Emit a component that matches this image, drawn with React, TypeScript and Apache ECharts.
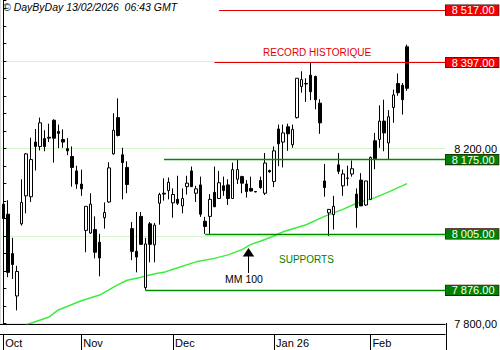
import React, { useEffect, useRef } from 'react';
import * as echarts from 'echarts';

// Daily candles (index 0 = first visible session)
const opens = [8073, 8050, 7960, 7863, 8028, 8092, 8090, 8215, 8205, 8223, 8224, 8265, 8239, 8221, 8200, 8182, 8149, 8119, 8013, 8007, 8015, 7986, 8042, 8078, 8188, 8271, 8186, 8157, 8017, 7965, 8045, 7882, 8028, 7980, 8075, 8098, 8104, 8076, 8084, 8069, 8113, 8149, 8098, 8117, 8034, 8045, 8100, 8086, 8115, 8117, 8086, 8130, 8136, 8119, 8109, 8102, 8127, 8098, 8150, 8125, 8245, 8215, 8250, 8209, 8271, 8342, 8349, 8368, 8365, 8304, 8126, 8053, 8049, 8163, 8115, 8132, 8142, 8096, 8128, 8071, 8084, 8218, 8221, 8263, 8213, 8294, 8349, 8345, 8433];
const closes = [8040, 7917, 7935, 7919, 8077, 8188, 8175, 8205, 8259, 8205, 8226, 8224, 8235, 8215, 8195, 8157, 8119, 8108, 8068, 8073, 7963, 7950, 8054, 8156, 8242, 8230, 8168, 8118, 7965, 7952, 7981, 7982, 7981, 8025, 8095, 8096, 8123, 8095, 8075, 8086, 8121, 8113, 8108, 8050, 8022, 8084, 8067, 8122, 8104, 8086, 8152, 8152, 8121, 8102, 8103, 8101, 8111, 8167, 8147, 8195, 8211, 8236, 8234, 8244, 8361, 8358, 8348, 8330, 8312, 8259, 8111, 8061, 8068, 8148, 8142, 8133, 8154, 8065, 8069, 8126, 8180, 8177, 8263, 8236, 8273, 8323, 8328, 8312, 8338];
const lows = [8038, 7906, 7902, 7830, 8024, 8052, 8078, 8150, 8196, 8194, 8215, 8168, 8201, 8202, 8185, 8113, 8108, 8092, 7963, 8005, 7949, 7908, 8017, 8076, 8186, 8228, 8084, 8098, 7945, 7917, 7981, 7876, 7940, 7940, 8026, 8081, 8084, 8042, 8071, 8052, 8095, 8113, 8078, 8044, 8005, 8005, 8067, 8086, 8092, 8071, 8086, 8119, 8098, 8088, 8102, 8100, 8108, 8094, 8145, 8112, 8160, 8157, 8195, 8202, 8269, 8328, 8307, 8311, 8290, 8234, 8090, 8000, 8015, 8142, 8092, 8115, 8136, 8019, 8069, 8069, 8082, 8153, 8202, 8194, 8175, 8259, 8321, 8278, 8332];
const highs = [8109, 8082, 7996, 7932, 8130, 8190, 8225, 8245, 8271, 8242, 8257, 8267, 8255, 8244, 8224, 8205, 8161, 8152, 8068, 8098, 8045, 8005, 8077, 8169, 8281, 8315, 8202, 8171, 8032, 8055, 8055, 7996, 8032, 8030, 8099, 8132, 8134, 8109, 8138, 8109, 8138, 8159, 8115, 8136, 8044, 8096, 8159, 8149, 8136, 8130, 8168, 8175, 8138, 8128, 8136, 8103, 8136, 8190, 8152, 8205, 8255, 8255, 8257, 8255, 8361, 8377, 8361, 8397, 8367, 8313, 8165, 8061, 8092, 8190, 8152, 8161, 8173, 8109, 8144, 8126, 8182, 8236, 8299, 8312, 8288, 8335, 8372, 8350, 8438];

// 100-day moving average, read at selected sessions [session index, value]
const maIndex = [0, 5, 10, 12, 17, 21, 25, 27, 30, 33, 35, 37, 42, 46, 49, 52, 54, 56, 58, 61, 66, 70, 74, 77, 81, 84, 88];
const maValue = [7773, 7797, 7815, 7831, 7852, 7865, 7889, 7899, 7906, 7914, 7917, 7924, 7941, 7949, 7957, 7969, 7981, 7988, 7996, 8010, 8026, 8045, 8061, 8075, 8088, 8101, 8120];

// Month separators on the time axis
const monthTicks = [0, 17, 37, 59, 80];
const monthLabels = ['Oct', 'Nov', 'Dec', 'Jan 26', 'Feb'];

// Price-axis labels that stay visible (others are covered by level boxes)
const priceLabels = [7800, 8200];

// Horizontal levels: value, first session, kind
const levelValues = [8517, 8397, 8175, 8005, 7876];
const levelStarts = [47, 46, 35, 44, 31];
const levelKinds = ['res', 'res', 'sup', 'sup', 'sup'];

const Y_MIN = 7800;
const Y_MAX = 8540;
const X_MIN = -0.72;
const X_MAX = 96.3;

const RED = '#e00000';
const RED_BOX = '#f00000';
const GREEN = '#008a00';
const GRID_GREEN = '#d4f4cc';
const MA_GREEN = '#3cec3c';
const FONT = 'Arial, "Liberation Sans", sans-serif';

function fmt(v: number, sep: string): string {
  const th = Math.floor(v / 1000);
  const rest = String(Math.round(v % 1000)).padStart(3, '0');
  return `${th} ${rest}${sep}00`;
}

export default function App() {
  const ref = useRef<HTMLDivElement>(null);

  useEffect(() => {
    if (!ref.current) return;
    const chart = echarts.init(ref.current, undefined, { renderer: 'svg' });

    const candles = opens.map((o, i) => [i, o, closes[i], lows[i], highs[i]]);
    const ma = maIndex.map((idx, i) => [idx, maValue[i]]);

    const markLineData = levelValues.map((v, i) => {
      const isRes = levelKinds[i] === 'res';
      const lineColor = isRes ? RED : GREEN;
      const boxColor = isRes ? RED_BOX : '#008000';
      const lineStyle = { color: lineColor, width: isRes ? 1.2 : 1.4, type: 'solid', opacity: 1 };
      return [
        {
          coord: [levelStarts[i], v],
          lineStyle,
          label: {
            show: true,
            position: 'end',
            distance: 0.5,
            formatter: fmt(v, '.'),
            color: '#fff',
            fontSize: 11,
            fontFamily: FONT,
            backgroundColor: boxColor,
            borderColor: '#300',
            borderWidth: 0.6,
            padding: [0, 2, 0, 6],
            lineHeight: 10,
            width: 45,
          },
        },
        { coord: [X_MAX, v], lineStyle },
      ];
    });

    const option: any = {
      animation: false,
      backgroundColor: '#fff',
      grid: { left: 0, top: 0, width: 446.5, height: 323.5 },
      xAxis: [
        {
          type: 'value',
          min: X_MIN,
          max: X_MAX,
          offset: 1,
          axisLine: { show: true, lineStyle: { color: '#000', width: 1 } },
          axisTick: { show: false },
          axisLabel: { show: false },
          splitLine: { show: false },
        },
        {
          type: 'value',
          min: X_MIN,
          max: X_MAX,
          position: 'bottom',
          offset: 10.8,
          axisLine: { show: true, lineStyle: { color: '#000', width: 1 } },
          axisTick: {
            show: true,
            customValues: monthTicks,
            length: 16,
            inside: false,
            lineStyle: { color: '#000', width: 1 },
          },
          axisLabel: {
            show: true,
            customValues: monthTicks,
            formatter: (v: number) => {
              const k = monthTicks.indexOf(Math.round(v));
              return k >= 0 ? monthLabels[k] : '';
            },
            align: 'left',
            margin: 3,
            padding: [0, 0, 0, 2],
            color: '#000',
            fontSize: 11,
            fontFamily: FONT,
          },
          splitLine: { show: false },
        },
      ],
      yAxis: {
        type: 'value',
        position: 'right',
        min: Y_MIN,
        max: Y_MAX,
        interval: 40,
        axisLine: { show: true, lineStyle: { color: '#000', width: 1 } },
        axisTick: { show: true, length: 3, lineStyle: { color: '#000' } },
        axisLabel: {
          show: true,
          margin: 9,
          color: '#000',
          fontSize: 11,
          fontFamily: FONT,
          formatter: (v: number) => (priceLabels.indexOf(Math.round(v)) >= 0 ? fmt(v, ',') : ''),
        },
        splitLine: {
          show: true,
          lineStyle: {
            color: [GRID_GREEN, 'rgba(0,0,0,0)', 'rgba(0,0,0,0)', 'rgba(0,0,0,0)', 'rgba(0,0,0,0)'],
            width: 1,
          },
        },
      },
      series: [
        {
          type: 'line',
          data: ma,
          xAxisIndex: 0,
          showSymbol: false,
          symbol: 'none',
          lineStyle: { color: MA_GREEN, width: 1.5 },
          z: 1,
          silent: true,
        },
        {
          type: 'candlestick',
          data: candles,
          xAxisIndex: 0,
          barWidth: 3,
          z: 3,
          itemStyle: {
            color: '#fff',
            color0: '#000',
            borderColor: '#000',
            borderColor0: '#000',
            borderColorDoji: '#000',
            borderWidth: 1,
          },
          markLine: {
            symbol: ['none', 'none'],
            silent: true,
            animation: false,
            data: markLineData,
          },
        },
      ],
      graphic: [
        {
          type: 'line',
          shape: { x1: 0.5, y1: 0, x2: 0.5, y2: 323 },
          style: { stroke: '#d8d8d8', lineWidth: 1 },
          silent: true,
        },
        {
          type: 'line',
          shape: { x1: 446.5, y1: 323, x2: 446.5, y2: 350 },
          style: { stroke: '#000', lineWidth: 1 },
          silent: true,
        },
        {
          type: 'text',
          left: 3,
          top: 1,
          style: {
            text: '\u00a9 DayByDay 13/02/2026  06:43 GMT',
            fill: '#000',
            font: `italic 10.5px ${FONT}`,
          },
        },
        {
          type: 'text',
          x: 263,
          y: 52.5,
          style: {
            text: 'RECORD HISTORIQUE',
            fill: RED,
            font: `10px ${FONT}`,
            verticalAlign: 'middle',
          },
        },
        {
          type: 'text',
          x: 279,
          y: 259.5,
          style: {
            text: 'SUPPORTS',
            fill: '#008000',
            font: `10px ${FONT}`,
            verticalAlign: 'middle',
          },
        },
        {
          type: 'text',
          x: 244,
          y: 279,
          style: {
            text: 'MM 100',
            fill: '#000',
            font: `10.5px ${FONT}`,
            align: 'center',
            verticalAlign: 'middle',
          },
        },
        {
          type: 'polygon',
          shape: { points: [[248.5, 248], [242.8, 256.5], [254.2, 256.5]] },
          style: { fill: '#000' },
          silent: true,
        },
        {
          type: 'line',
          shape: { x1: 248.5, y1: 256, x2: 248.5, y2: 273 },
          style: { stroke: '#000', lineWidth: 1 },
          silent: true,
        },
      ],
    };

    chart.setOption(option);
    return () => chart.dispose();
  }, []);

  return (
    <div
      ref={ref}
      style={{ position: 'absolute', left: 0, top: 0, width: 500, height: 350, background: '#fff' }}
    />
  );
}
